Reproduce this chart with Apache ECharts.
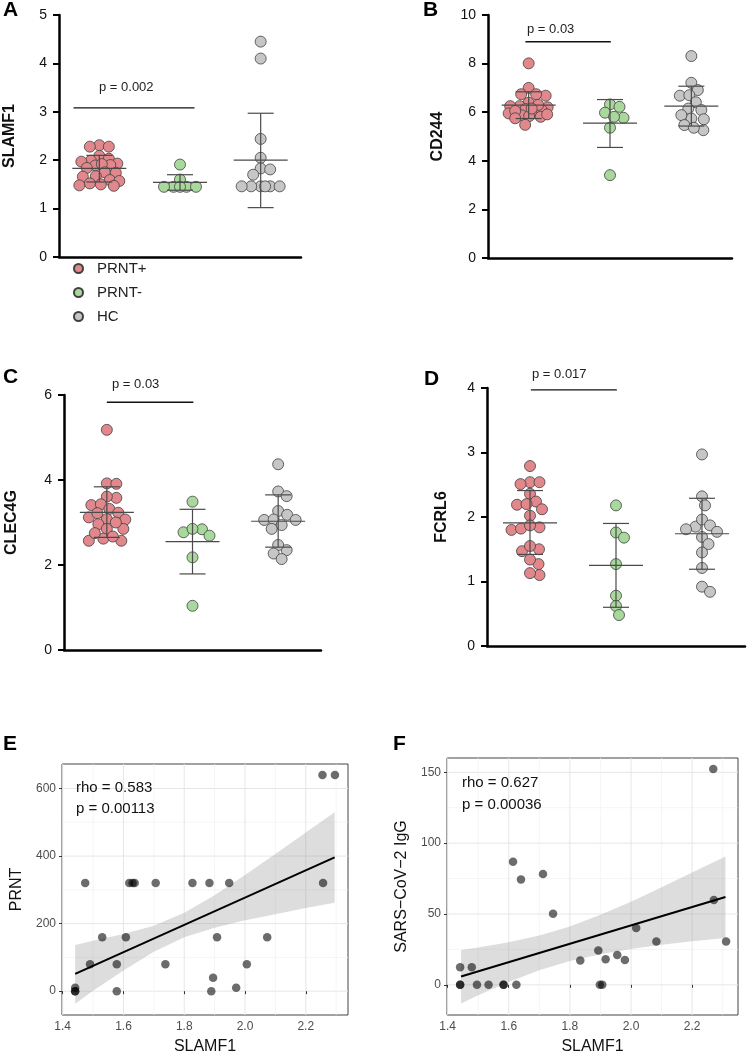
<!DOCTYPE html>
<html>
<head>
<meta charset="utf-8">
<script src="https://cdn.jsdelivr.net/npm/echarts@6/dist/echarts.min.js"></script>
<style>
  html, body { margin: 0; padding: 0; background: #fff; }
  #chart { width: 747px; height: 1056px; }
</style>
</head>
<body>
<div id="chart"></div>
<script>
// ---------------- DATA ----------------
const groups = ['PRNT+', 'PRNT-', 'HC'];

// Panel A: SLAMF1
const aPos = [2.31, 2.28, 2.28, 2.09, 2.03, 1.99, 1.97, 1.93, 1.90, 1.89, 1.92, 1.84, 1.75, 1.74, 1.67, 1.66, 1.59, 1.57, 1.52, 1.50, 1.48, 1.47];
const aNeg = [1.91, 1.60, 1.45, 1.45, 1.45, 1.45, 1.45];
const aHC  = [4.45, 4.10, 2.44, 2.05, 1.83, 1.81, 1.70, 1.46, 1.46, 1.46, 1.46, 1.46, 1.46];
const aMean = [1.83, 1.54, 2.00];
const aLo   = [1.55, 1.38, 1.02];
const aHi   = [2.10, 1.70, 2.97];
const aSig  = [0.18, 1.68, 3.08];
const aP = 'p = 0.002';

// Panel B: CD244
const bPos = [8.01, 7.00, 6.68, 6.74, 6.74, 6.39, 6.25, 6.20, 6.13, 6.03, 6.09, 6.25, 5.87, 5.84, 5.81, 5.95, 5.91, 5.48, 6.30, 6.05, 5.75, 6.15];
const bNeg = [6.32, 6.22, 5.77, 5.98, 5.81, 5.36, 3.41];
const bHC  = [8.31, 7.21, 6.91, 6.68, 6.70, 6.41, 6.09, 6.15, 5.74, 5.88, 5.71, 5.47, 5.26, 5.36];
const bMean = [6.29, 5.55, 6.25];
const bLo   = [5.74, 4.55, 5.43];
const bHi   = [6.84, 6.52, 7.07];
const bSig  = [0.46, 1.51, 8.9];
const bP = 'p = 0.03';

// Panel C: CLEC4G
const cPos = [5.18, 3.92, 3.91, 3.58, 3.61, 3.41, 3.43, 3.32, 3.23, 3.12, 3.07, 3.08, 3.22, 2.96, 2.85, 2.85, 2.62, 2.57, 2.57, 2.67, 3.00, 2.75];
const cNeg = [3.49, 2.84, 2.69, 2.77, 2.85, 2.18, 1.04];
const cHC  = [4.37, 3.73, 3.62, 3.27, 3.18, 3.06, 3.07, 3.06, 2.94, 2.85, 2.35, 2.47, 2.27, 2.14];
const cMean = [3.24, 2.55, 3.03];
const cLo   = [2.65, 1.79, 2.42];
const cHi   = [3.84, 3.31, 3.65];
const cSig  = [0.50, 1.51, 5.83];
const cP = 'p = 0.03';

// Panel D: FCRL6
const dPos = [2.79, 2.54, 2.51, 2.54, 2.36, 2.24, 2.19, 2.20, 2.12, 2.02, 1.84, 1.80, 1.82, 1.87, 1.50, 1.47, 1.55, 1.27, 1.34, 1.10, 1.13];
const dNeg = [2.18, 1.76, 1.68, 1.27, 0.78, 0.62, 0.48];
const dHC  = [2.97, 2.32, 2.18, 1.85, 1.96, 1.87, 1.77, 1.81, 1.69, 1.58, 1.45, 1.21, 0.92, 0.84];
const dMean = [1.91, 1.25, 1.74];
const dLo   = [1.42, 0.60, 1.19];
const dHi   = [2.41, 1.90, 2.29];
const dSig  = [0.51, 1.51, 3.97];
const dP = 'p = 0.017';

// Panel E: SLAMF1 vs PRNT
const eX = [2.255, 2.296, 1.474, 1.619, 1.637, 1.630, 1.706, 1.827, 1.883, 1.948, 2.257, 1.530, 1.608, 1.908, 2.073, 1.490, 1.578, 1.738, 2.006, 1.895, 1.971, 1.889, 1.578, 1.441, 1.441, 1.441];
const eY = [640, 640, 320, 320, 320, 320, 320, 320, 320, 320, 320, 160, 160, 160, 160, 80, 80, 80, 80, 40, 10, 0, 0, 10, 0, 0];
const eFitX = [1.441, 2.295];
const eFitY = [51, 396];
const eBandX  = [1.441, 1.5, 1.6, 1.7, 1.8, 1.9, 2.0, 2.1, 2.2, 2.295];
const eBandLo = [-37, 1, 61, 117, 160, 188, 210, 228, 246, 262];
const eBandHi = [137, 149, 169, 194, 232, 284, 344, 406, 470, 530];
const eTicksX = [1.4, 1.6, 1.8, 2.0, 2.2];
const eTicksY = [0, 200, 400, 600];
const eMinorX = [1.5, 1.7, 1.9, 2.1, 2.3];
const eMinorY = [100, 300, 500];
const eRho = 'rho = 0.583';
const eP = 'p = 0.00113';

// Panel F: SLAMF1 vs SARS-CoV-2 IgG
const fX = [2.269, 1.614, 1.640, 1.712, 1.745, 2.271, 2.017, 2.083, 2.311, 1.893, 1.955, 1.917, 1.980, 1.834, 1.441, 1.479, 1.441, 1.441, 1.496, 1.534, 1.583, 1.583, 1.625, 1.898, 1.906];
const fY = [152.3, 86.9, 74.4, 78.2, 50.2, 59.9, 40.1, 30.5, 30.5, 24.2, 21.1, 18.1, 17.6, 17.1, 12.4, 12.4, 0, 0, 0, 0, 0, 0, 0, 0, 0];
const fFitX = [1.444, 2.309];
const fFitY = [5.9, 62];
const fBandX  = [1.444, 1.5, 1.6, 1.7, 1.8, 1.9, 2.0, 2.1, 2.2, 2.309];
const fBandLo = [-13.1, -7.4, 2.0, 10.2, 16.8, 21.6, 25.3, 28.2, 30.7, 33.1];
const fBandHi = [24.6, 26.4, 30.0, 34.8, 41.2, 49.4, 58.7, 68.8, 79.3, 90.6];
const fTicksX = [1.4, 1.6, 1.8, 2.0, 2.2];
const fTicksY = [0, 50, 100, 150];
const fMinorX = [1.5, 1.7, 1.9, 2.1, 2.3];
const fMinorY = [25, 75, 125];
const fRho = 'rho = 0.627';
const fP = 'p = 0.00036';

// ---------------- STYLE / LAYOUT ----------------
const FONT = '"Liberation Sans", Arial, Helvetica, sans-serif';
const groupColors = ['#E2878C', '#A8D89B', '#C6C6C6'];
const dotGrids = [
  { left: 59,  top: 15,  width: 242, height: 242 },
  { left: 488, top: 15,  width: 244, height: 243 },
  { left: 64,  top: 395, width: 257, height: 255 },
  { left: 487, top: 388, width: 258, height: 258 }
];
const corGrids = [
  { left: 62,  top: 764, width: 286, height: 253 },
  { left: 447, top: 758, width: 291, height: 258 }
];
const dotPanels = [
  { name: 'SLAMF1', max: 5,  interval: 1, gap: 41, sets: [aPos, aNeg, aHC], mean: aMean, lo: aLo, hi: aHi, sig: aSig, p: aP, pPos: [99, 88] },
  { name: 'CD244',  max: 10, interval: 2, gap: 42, sets: [bPos, bNeg, bHC], mean: bMean, lo: bLo, hi: bHi, sig: bSig, p: bP, pPos: [527, 30] },
  { name: 'CLEC4G', max: 6,  interval: 2, gap: 44, sets: [cPos, cNeg, cHC], mean: cMean, lo: cLo, hi: cHi, sig: cSig, p: cP, pPos: [112, 385] },
  { name: 'FCRL6',  max: 4,  interval: 1, gap: 37, sets: [dPos, dNeg, dHC], mean: dMean, lo: dLo, hi: dHi, sig: dSig, p: dP, pPos: [532, 375] }
];
const corPanels = [
  { xs: eX, ys: eY, fitX: eFitX, fitY: eFitY, bx: eBandX, blo: eBandLo, bhi: eBandHi,
    xmin: 1.3977, xmax: 2.339, ymin: -70.5, ymax: 672.5, tx: eTicksX, ty: eTicksY, mx: eMinorX, my: eMinorY,
    yname: 'PRNT', rho: eRho, p: eP, textPos: [76, 788, 809] },
  { xs: fX, ys: fY, fitX: fFitX, fitY: fFitY, bx: fBandX, blo: fBandLo, bhi: fBandHi,
    xmin: 1.398, xmax: 2.35, ymin: -21.3, ymax: 160.1, tx: fTicksX, ty: fTicksY, mx: fMinorX, my: fMinorY,
    yname: 'SARS\u2212CoV\u22122 IgG', rho: fRho, p: fP, textPos: [462, 783, 805] }
];

// compact beeswarm layout (dots may overlap a little, swarm width is capped)
function beeswarm(vals, pxPerY, pxPerX, minDist, maxHalf) {
  const order = vals.map((v, i) => i).sort((a, b) => vals[b] - vals[a]);
  const placed = [];
  const out = new Array(vals.length);
  const cands = [0];
  for (let k = 1; k * 0.5 <= maxHalf; k++) { cands.push(k * 0.5); cands.push(-k * 0.5); }
  for (const i of order) {
    const y = vals[i] * pxPerY;
    let best = null, bestScore = -1;
    for (const c of cands) {
      let md = Infinity;
      for (const p of placed) { const d = Math.hypot(p.x - c, p.y - y); if (d < md) md = d; }
      if (md >= minDist) { best = c; break; }
      if (md > bestScore + 0.3) { bestScore = md; best = c; }
    }
    placed.push({ x: best, y: y });
    out[i] = best / pxPerX;
  }
  return out;
}

const grid = [], xAxis = [], yAxis = [], series = [], graphic = [];

dotPanels.forEach((pn, pi) => {
  const g = dotGrids[pi];
  grid.push(Object.assign({ show: false, containLabel: false }, g));
  xAxis.push({
    gridIndex: pi, type: 'value', min: 0, max: 3,
    axisLine: { show: true, onZero: false, lineStyle: { color: '#000', width: 2.5 } },
    axisTick: { show: false }, axisLabel: { show: false }, splitLine: { show: false }
  });
  yAxis.push({
    gridIndex: pi, type: 'value', min: 0, max: pn.max, interval: pn.interval,
    axisLine: { show: true, onZero: false, lineStyle: { color: '#000', width: 2.5 } },
    axisTick: { show: true, length: 6, lineStyle: { color: '#000', width: 2 } },
    axisLabel: { fontSize: 14, color: '#111', margin: 12, fontFamily: FONT },
    splitLine: { show: false },
    name: pn.name, nameLocation: 'middle', nameRotate: 90, nameGap: pn.gap,
    nameTextStyle: { fontSize: 16, fontWeight: 'bold', color: '#111', fontFamily: FONT }
  });
  const pxPerY = g.height / pn.max;
  const pxPerX = g.width / 3;
  pn.sets.forEach((vals, gi) => {
    const offs = beeswarm(vals, pxPerY, pxPerX, 9.5, 20);
    series.push({
      name: groups[gi], type: 'scatter', xAxisIndex: pi, yAxisIndex: pi,
      data: vals.map((v, j) => [gi + 0.5 + offs[j], v]),
      symbol: 'circle', symbolSize: 11, z: 2,
      itemStyle: { color: groupColors[gi], borderColor: '#404040', borderWidth: 0.8, opacity: 1 },
      emphasis: { disabled: true }
    });
  });
  // mean ± SD
  series.push({
    type: 'custom', xAxisIndex: pi, yAxisIndex: pi, z: 4, silent: true,
    data: pn.mean.map((m, gi) => [gi + 0.5, m, pn.lo[gi], pn.hi[gi]]),
    encode: { x: 0, y: [1, 2, 3] },
    renderItem: function (params, api) {
      const m = api.coord([api.value(0), api.value(1)]);
      const lo = api.coord([api.value(0), api.value(2)]);
      const hi = api.coord([api.value(0), api.value(3)]);
      const st = { stroke: '#4a4a4a', lineWidth: 1.2 };
      const mh = 27, ch = 13;
      return {
        type: 'group', children: [
          { type: 'line', shape: { x1: m[0] - mh, y1: m[1], x2: m[0] + mh, y2: m[1] }, style: st },
          { type: 'line', shape: { x1: lo[0], y1: lo[1], x2: hi[0], y2: hi[1] }, style: st },
          { type: 'line', shape: { x1: lo[0] - ch, y1: lo[1], x2: lo[0] + ch, y2: lo[1] }, style: st },
          { type: 'line', shape: { x1: hi[0] - ch, y1: hi[1], x2: hi[0] + ch, y2: hi[1] }, style: st }
        ]
      };
    }
  });
  // significance bar
  series.push({
    type: 'line', xAxisIndex: pi, yAxisIndex: pi, silent: true, z: 4,
    data: [[pn.sig[0], pn.sig[2]], [pn.sig[1], pn.sig[2]]],
    symbol: 'none', lineStyle: { color: '#111', width: 1.3 }
  });
  graphic.push({
    type: 'text', left: pn.pPos[0], top: pn.pPos[1] - 7, z: 100,
    style: { text: pn.p, fontSize: 13, fill: '#222', fontFamily: FONT }
  });
});

corPanels.forEach((pn, ci) => {
  const idx = 4 + ci;
  grid.push(Object.assign({ show: true, borderColor: '#444', borderWidth: 1, backgroundColor: '#fff', containLabel: false }, corGrids[ci]));
  xAxis.push({
    gridIndex: idx, type: 'value', min: pn.xmin, max: pn.xmax,
    axisLine: { show: false },
    axisTick: { show: true, customValues: pn.tx, length: 3, lineStyle: { color: '#333' } },
    axisLabel: { customValues: pn.tx, formatter: v => Number(v).toFixed(1), fontSize: 12, color: '#4d4d4d', margin: 6, fontFamily: FONT },
    splitLine: { show: false },
    name: 'SLAMF1', nameLocation: 'middle', nameGap: 24,
    nameTextStyle: { fontSize: 16, color: '#111', fontFamily: FONT }
  });
  yAxis.push({
    gridIndex: idx, type: 'value', min: pn.ymin, max: pn.ymax,
    axisLine: { show: false },
    axisTick: { show: true, customValues: pn.ty, length: 3, lineStyle: { color: '#333' } },
    axisLabel: { customValues: pn.ty, fontSize: 12, color: '#4d4d4d', margin: 6, fontFamily: FONT },
    splitLine: { show: false },
    name: pn.yname, nameLocation: 'middle', nameRotate: 90, nameGap: 37,
    nameTextStyle: { fontSize: 16, color: '#111', fontFamily: FONT }
  });
  // grid lines (major + minor)
  const gl = [];
  pn.ty.forEach(v => gl.push([0, v, 1])); pn.my.forEach(v => gl.push([0, v, 0]));
  pn.tx.forEach(v => gl.push([1, v, 1])); pn.mx.forEach(v => gl.push([1, v, 0]));
  series.push({
    type: 'custom', xAxisIndex: idx, yAxisIndex: idx, z: 0, silent: true,
    data: gl, encode: { x: -1, y: -1 },
    renderItem: function (params, api) {
      const cs = params.coordSys;
      const kind = api.value(0), v = api.value(1), major = api.value(2);
      const st = { stroke: major ? '#e6e6e6' : '#f0f0f0', lineWidth: major ? 1 : 0.7 };
      if (kind === 0) {
        const y = api.coord([pn.xmin, v])[1];
        if (y < cs.y || y > cs.y + cs.height) return null;
        return { type: 'line', shape: { x1: cs.x, y1: y, x2: cs.x + cs.width, y2: y }, style: st };
      }
      const x = api.coord([v, pn.ymin])[0];
      if (x < cs.x || x > cs.x + cs.width) return null;
      return { type: 'line', shape: { x1: x, y1: cs.y, x2: x, y2: cs.y + cs.height }, style: st };
    }
  });
  // confidence band
  series.push({
    type: 'custom', xAxisIndex: idx, yAxisIndex: idx, z: 1, silent: true,
    data: [[pn.bx[0], pn.blo[0]]],
    renderItem: function (params, api) {
      const pts = [];
      pn.bx.forEach((x, i) => pts.push(api.coord([x, pn.bhi[i]])));
      for (let i = pn.bx.length - 1; i >= 0; i--) pts.push(api.coord([pn.bx[i], pn.blo[i]]));
      return { type: 'polygon', shape: { points: pts, smooth: 0 }, style: { fill: 'rgba(153,153,153,0.33)', stroke: 'none' } };
    }
  });
  // points
  series.push({
    type: 'scatter', xAxisIndex: idx, yAxisIndex: idx, z: 3, silent: true,
    data: pn.xs.map((x, i) => [x, pn.ys[i]]),
    symbol: 'circle', symbolSize: 8.5,
    itemStyle: { color: 'rgba(0,0,0,0.72)', borderWidth: 0 }
  });
  // fitted line
  series.push({
    type: 'line', xAxisIndex: idx, yAxisIndex: idx, z: 4, silent: true,
    data: pn.fitX.map((x, i) => [x, pn.fitY[i]]),
    symbol: 'none', lineStyle: { color: '#000', width: 2 }
  });
  graphic.push({
    type: 'text', left: pn.textPos[0], top: pn.textPos[1] - 8, z: 100,
    style: { text: pn.rho, fontSize: 15, fill: '#111', fontFamily: FONT }
  });
  graphic.push({
    type: 'text', left: pn.textPos[0], top: pn.textPos[2] - 8, z: 100,
    style: { text: pn.p, fontSize: 15, fill: '#111', fontFamily: FONT }
  });
});

const letterStyle = { fontSize: 21, fontWeight: 'bold', color: '#000', fontFamily: FONT };
const title = [
  { text: 'A', left: 3, top: 0 },
  { text: 'B', left: 423, top: 0 },
  { text: 'C', left: 3, top: 367 },
  { text: 'D', left: 424, top: 369 },
  { text: 'E', left: 3, top: 734 },
  { text: 'F', left: 393, top: 734 }
].map(t => Object.assign({ padding: 0, textStyle: letterStyle }, t));

const chart = echarts.init(document.getElementById('chart'), null, { renderer: 'canvas' });
chart.setOption({
  animation: false,
  backgroundColor: '#fff',
  title: title,
  legend: {
    data: groups, orient: 'vertical', left: 73, top: 261, padding: 0,
    icon: 'circle', itemWidth: 27, itemHeight: 9, itemGap: 9,
    textStyle: { fontSize: 15, color: '#222', fontFamily: FONT },
    selectedMode: false
  },
  grid: grid, xAxis: xAxis, yAxis: yAxis, series: series, graphic: graphic
});
</script>
</body>
</html>
